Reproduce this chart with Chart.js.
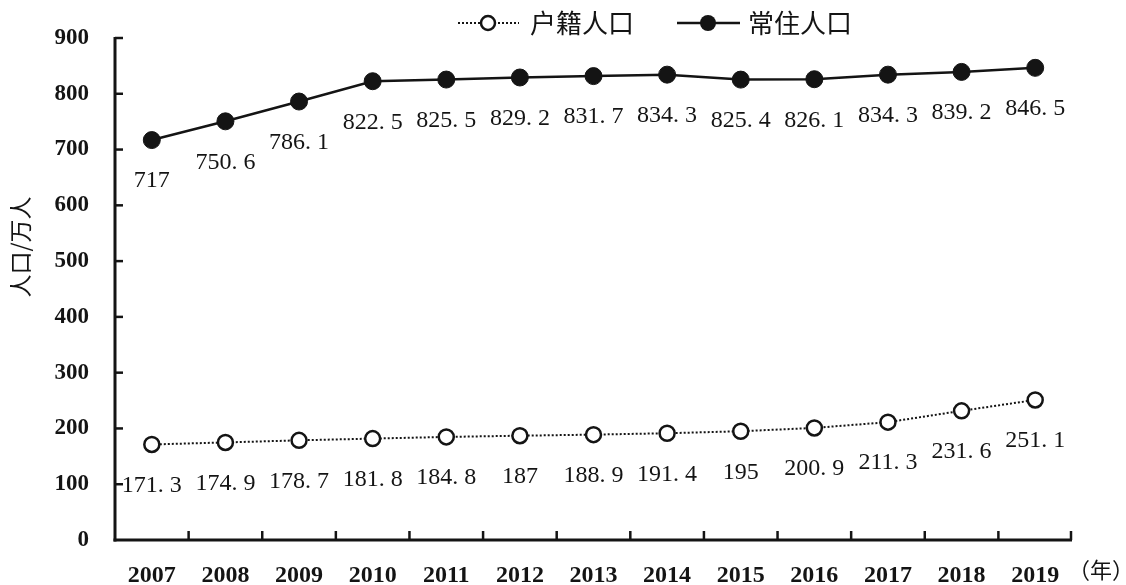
<!DOCTYPE html>
<html>
<head>
<meta charset="utf-8">
<script src="https://cdn.jsdelivr.net/npm/chart.js@4.4.0/dist/chart.umd.min.js"></script>
<style>
  html, body { margin: 0; padding: 0; background: #ffffff; }
  #wrap { width: 1126px; height: 585px; }
</style>
</head>
<body>
<div id="wrap"><canvas id="c" width="1126" height="585"></canvas></div>
<script>
const years = ['2007','2008','2009','2010','2011','2012','2013','2014','2015','2016','2017','2018','2019'];
const huji = [171.3, 174.9, 178.7, 181.8, 184.8, 187, 188.9, 191.4, 195, 200.9, 211.3, 231.6, 251.1];
const changzhu = [717, 750.6, 786.1, 822.5, 825.5, 829.2, 831.7, 834.3, 825.4, 826.1, 834.3, 839.2, 846.5];
const yTicks = [0, 100, 200, 300, 400, 500, 600, 700, 800, 900];
const seriesNames = ['户籍人口', '常住人口'];
const yTitle = '人口/万人';
const xUnit = '（年）';

const INK = '#141414';
const SERIF = '"Liberation Serif", "DejaVu Serif", serif';
const CJK = '"Noto Sans CJK SC", sans-serif';

function fmt(v) { return String(v).replace('.', '. '); }

const decor = {
  id: 'decor',
  afterDatasetsDraw(chart) {
    const ctx = chart.ctx;
    const ca = chart.chartArea;
    const xs = chart.scales.x, ys = chart.scales.y;
    ctx.save();
    ctx.strokeStyle = INK;
    ctx.lineCap = 'butt';
    // y axis
    ctx.lineWidth = 3;
    ctx.beginPath();
    ctx.moveTo(ca.left, ys.getPixelForValue(900) - 1);
    ctx.lineTo(ca.left, ys.getPixelForValue(0) + 1.5);
    ctx.stroke();
    // x axis
    ctx.beginPath();
    ctx.moveTo(ca.left - 1.5, ys.getPixelForValue(0));
    ctx.lineTo(ca.right, ys.getPixelForValue(0));
    ctx.stroke();
    // y ticks (inside)
    ctx.lineWidth = 2.5;
    yTicks.forEach(v => {
      if (v === 0) return;
      const y = ys.getPixelForValue(v);
      ctx.beginPath();
      ctx.moveTo(ca.left, y);
      ctx.lineTo(ca.left + 8, y);
      ctx.stroke();
    });
    // x ticks at category boundaries (inside)
    const y0 = ys.getPixelForValue(0);
    for (let i = 0; i < years.length; i++) {
      let bx;
      if (i < years.length - 1) bx = (xs.getPixelForValue(i) + xs.getPixelForValue(i + 1)) / 2;
      else bx = ca.right - 1;
      ctx.beginPath();
      ctx.moveTo(bx, y0);
      ctx.lineTo(bx, y0 - 9);
      ctx.stroke();
    }
    ctx.restore();
  },
  afterDraw(chart) {
    const ctx = chart.ctx;
    ctx.save();
    ctx.fillStyle = INK;
    // data labels
    ctx.font = '24px ' + SERIF;
    ctx.textAlign = 'center';
    ctx.textBaseline = 'middle';
    chart.data.datasets.forEach((ds, di) => {
      const meta = chart.getDatasetMeta(di);
      meta.data.forEach((pt, i) => {
        ctx.fillText(fmt(ds.data[i]), pt.x, pt.y + 41);
      });
    });
    // legend
    const ly = 23;
    ctx.strokeStyle = INK;
    // item 1 dotted + open circle
    ctx.lineWidth = 2;
    ctx.setLineDash([2, 2]);
    ctx.beginPath(); ctx.moveTo(458, ly); ctx.lineTo(519, ly); ctx.stroke();
    ctx.setLineDash([]);
    ctx.lineWidth = 2.5;
    ctx.fillStyle = '#ffffff';
    ctx.beginPath(); ctx.arc(488, ly, 7, 0, Math.PI * 2); ctx.fill(); ctx.stroke();
    ctx.fillStyle = INK;
    ctx.font = '26px ' + CJK;
    ctx.textAlign = 'left';
    ctx.fillText(seriesNames[0], 530, ly);
    // item 2 solid + filled circle
    ctx.lineWidth = 2.5;
    ctx.beginPath(); ctx.moveTo(677, ly); ctx.lineTo(740, ly); ctx.stroke();
    ctx.beginPath(); ctx.arc(708, ly, 8, 0, Math.PI * 2); ctx.fill();
    ctx.fillText(seriesNames[1], 748, ly);
    // x unit
    ctx.font = '22px ' + CJK;
    ctx.fillText(xUnit, 1068, 570);
    // y title
    ctx.translate(20, 247);
    ctx.rotate(-Math.PI / 2);
    ctx.textAlign = 'center';
    ctx.font = '23px ' + CJK;
    ctx.fillText(yTitle, 0, 0);
    ctx.restore();
  }
};

new Chart(document.getElementById('c'), {
  type: 'line',
  data: {
    labels: years,
    datasets: [
      {
        label: seriesNames[0],
        data: huji,
        borderColor: INK,
        borderWidth: 2,
        borderDash: [2, 2],
        pointStyle: 'circle',
        pointRadius: 7.5,
        pointBorderWidth: 2.5,
        pointBackgroundColor: '#ffffff',
        pointBorderColor: INK,
        tension: 0
      },
      {
        label: seriesNames[1],
        data: changzhu,
        borderColor: INK,
        borderWidth: 2.5,
        pointStyle: 'circle',
        pointRadius: 8.5,
        pointBorderWidth: 1,
        pointBackgroundColor: INK,
        pointBorderColor: INK,
        tension: 0
      }
    ]
  },
  options: {
    responsive: false,
    animation: false,
    devicePixelRatio: 1,
    layout: { padding: { top: 38, right: 54, left: 0, bottom: 0 } },
    plugins: { legend: { display: false }, tooltip: { enabled: false } },
    scales: {
      x: {
        offset: true,
        grid: { display: false },
        border: { display: false },
        ticks: {
          color: INK,
          font: { family: SERIF, size: 24, weight: 'bold' },
          padding: 13,
          maxRotation: 0,
          autoSkip: false
        },
        afterFit(s) { s.height = 45; }
      },
      y: {
        min: 0,
        max: 900,
        grid: { display: false },
        border: { display: false },
        afterBuildTicks(s) { s.ticks = yTicks.map(v => ({ value: v })); },
        ticks: {
          color: INK,
          font: { family: SERIF, size: 23, weight: 'bold' },
          padding: 18
        },
        afterFit(s) { s.width = 115; }
      }
    }
  },
  plugins: [decor]
});
</script>
</body>
</html>
